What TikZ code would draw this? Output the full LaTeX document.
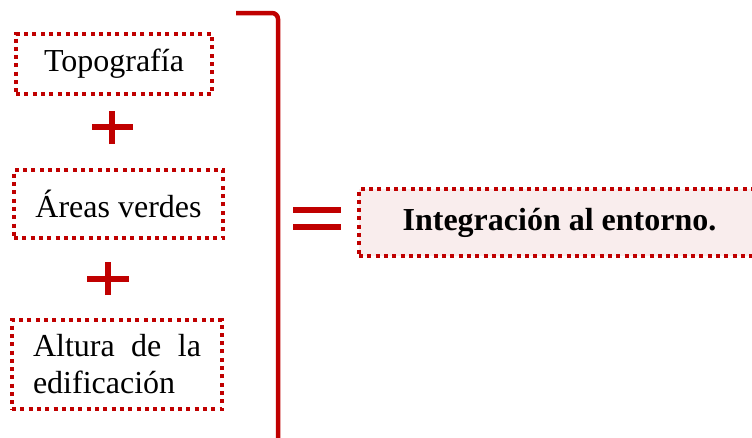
\documentclass[tikz,border=0pt]{standalone}
\usepackage{fontspec}
\setmainfont{Liberation Serif}
\usepackage{xcolor}
\usepackage{tikz}
\usetikzlibrary{positioning}
\definecolor{rojo}{RGB}{192,0,0}
\definecolor{rosa}{RGB}{249,237,237}

\begin{document}
\begin{tikzpicture}[x=1pt, y=-1pt,
  factor/.style={draw=rojo, line width=4pt, dash pattern=on 4pt off 4.3pt, align=center, font=\fontsize{32}{37}\selectfont, inner sep=0pt},
  result/.style={factor, fill=rosa, font=\fontsize{32}{37}\selectfont\bfseries},
  simbolo/.style={rojo, line width=6pt},
  llave/.style={rojo, line width=4.5pt, rounded corners=6pt}
]
\useasboundingbox (0,0) rectangle (752,437);

% Factores
\node[factor, minimum width=196pt, minimum height=60pt] (topo) at (114,64) {Topografía};
\node[factor, minimum width=209pt, minimum height=68pt] (areas) at (118.5,204) {Áreas verdes};
\node[factor, minimum width=210pt, minimum height=89pt] (altura) at (117,364.5)
  {\parbox{168pt}{Altura\hfill de\hfill la\\edificación}};

% Signos +
\coordinate (masA) at (112,127);
\coordinate (masB) at (108,279);
\draw[simbolo] ([xshift=-20pt]masA) -- ([xshift=21pt]masA);
\draw[simbolo] ([yshift=-17pt]masA) -- ([yshift=16pt]masA);
\draw[simbolo] ([xshift=-21pt]masB) -- ([xshift=21pt]masB);
\draw[simbolo] ([yshift=-16pt]masB) -- ([yshift=17pt]masB);

% Llave
\coordinate (llaveA) at (236,13);
\coordinate (llaveB) at (278,13);
\coordinate (llaveC) at (278,445);
\draw[llave] (llaveA) -- (llaveB) -- (llaveC);

% Signo =
\coordinate (igual) at (317,218.5);
\draw[simbolo] ([xshift=-24pt, yshift=-8.5pt]igual) -- ([xshift=24pt, yshift=-8.5pt]igual);
\draw[simbolo] ([xshift=-24pt, yshift=8.5pt]igual) -- ([xshift=24pt, yshift=8.5pt]igual);

% Resultado
\node[result, minimum width=401pt, minimum height=67pt] (integ) at (559.5,222.5) {Integración al entorno.};
\end{tikzpicture}
\end{document}
